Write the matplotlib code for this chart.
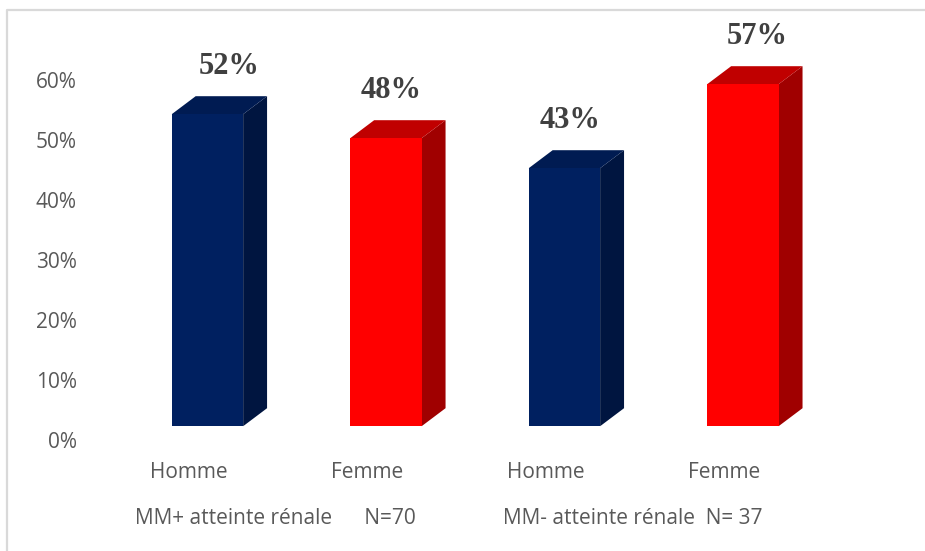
import matplotlib
matplotlib.use('Agg')
import matplotlib.pyplot as plt
from matplotlib.patches import Polygon
from matplotlib.lines import Line2D
import matplotlib.transforms as mtransforms

# Sex distribution by group, in percent
categories = ['Homme', 'Femme', 'Homme', 'Femme']
pct = [52, 48, 43, 57]
groups = ['MM+ atteinte rénale      N=70', 'MM- atteinte rénale  N= 37']
yticks = [0, 10, 20, 30, 40, 50, 60]

# face colours: front, top, side
blue = ('#002060', '#001b52', '#001540')
red = ('#ff0000', '#c00000', '#a00000')
bar_colors = [blue, red, blue, red]

# label nudges (x, data units) so the values sit where they were placed
label_dx = [0.12, 0.03, 0.03, 0.08]

W, H, DPI = 925, 551, 100
fig = plt.figure(figsize=(W / DPI, H / DPI), dpi=DPI)
fig.patch.set_facecolor('white')

ax = fig.add_axes([85 / W, 1 - 440 / H, 795 / W, 396 / H])
ax.set_xlim(-0.686, 3.768)
ax.set_ylim(0, 66)
for s in ax.spines.values():
    s.set_visible(False)

txt_gray = '#595959'
sans = ['Open Sans', 'DejaVu Sans']

ax.set_yticks(yticks)
ax.set_yticklabels(['%d%%' % t for t in yticks], fontsize=15, color=txt_gray,
                   family=sans)
ax.tick_params(axis='y', length=0, pad=6)
ax.set_xticks([])

# pseudo-3D columns
w = 0.40
dx, dy = 0.134, 3.0
base = 2.3
for i, (v, cols) in enumerate(zip(pct, bar_colors)):
    x0, x1 = i - w / 2, i + w / 2
    top = base + v
    front = Polygon([(x0, base), (x1, base), (x1, top), (x0, top)],
                    closed=True, fc=cols[0], ec='none')
    lid = Polygon([(x0, top), (x1, top), (x1 + dx, top + dy), (x0 + dx, top + dy)],
                  closed=True, fc=cols[1], ec='none')
    side = Polygon([(x1, base), (x1 + dx, base + dy), (x1 + dx, top + dy), (x1, top)],
                   closed=True, fc=cols[2], ec='none')
    for p in (side, lid, front):
        p.set_clip_on(False)
        ax.add_patch(p)
    ax.text(i + label_dx[i], top + dy + 5, '%d%%' % v, ha='center', va='center',
            fontsize=22, fontweight='bold', color='#404040',
            family=['Liberation Serif', 'DejaVu Serif'], clip_on=False)

# category and group labels under the floor
trans = mtransforms.blended_transform_factory(ax.transData, ax.transAxes)
off = mtransforms.ScaledTranslation(0, -32 / DPI, fig.dpi_scale_trans)
off2 = mtransforms.ScaledTranslation(0, -78 / DPI, fig.dpi_scale_trans)
for i, c in enumerate(categories):
    ax.text(i - 0.105, 0, c, transform=trans + off, ha='center', va='center',
            fontsize=15, color=txt_gray, family=sans)
for g, lab in enumerate(groups):
    xc = 2 * g + 0.5 - 0.12
    ax.text(xc, 0, lab, transform=trans + off2, ha='center', va='center',
            fontsize=15, color=txt_gray, family=sans)

# chart area border (only top and left edges fall inside the image)
fig.add_artist(Line2D([7 / W, 7 / W, 1.01], [-0.01, 1 - 9.5 / H, 1 - 9.5 / H],
                      transform=fig.transFigure, color='#d9d9d9', lw=1.6))

fig.savefig('out.png', dpi=DPI)
